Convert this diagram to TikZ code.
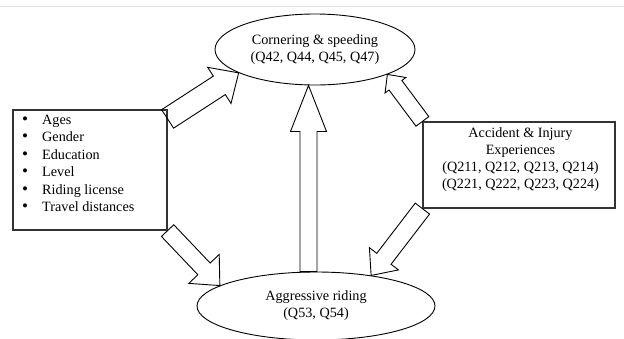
\documentclass[tikz,border=0pt]{standalone}
\usepackage{fontspec}
\setmainfont{Liberation Serif}
\usetikzlibrary{calc,shapes.geometric}
\newcommand{\diafont}{\fontsize{14.2pt}{17pt}\selectfont}
% tail, tip, shaft half width, head half width, head length
\newcommand{\blockarrow}[5]{%
  \coordinate (bah) at ($(#2)!#5!(#1)$);
  \draw[blockarr] ($(#1)!#3!90:(#2)$) -- ($(bah)!#3!90:(#2)$) -- ($(bah)!#4!90:(#2)$)
    -- (#2) -- ($(bah)!#4!-90:(#2)$) -- ($(bah)!#3!-90:(#2)$) -- ($(#1)!#3!-90:(#2)$) -- cycle;}
\tikzset{
  ell/.style={draw=black, line width=0.9pt, ellipse, inner sep=0pt, align=center, font=\diafont},
  box/.style={draw=black!80, line width=1.2pt, rectangle, inner sep=0pt},
  txt/.style={inner sep=0pt, font=\diafont},
  bul/.style={inner sep=0pt, font=\fontsize{17pt}{17pt}\selectfont},
  blockarr/.style={draw=black, line width=0.9pt, line join=miter},
}
\begin{document}
\begin{tikzpicture}[x=1pt, y=-1pt]
\useasboundingbox (0,0) rectangle (624,338);
\clip (0,0) rectangle (624,338);
\draw[black!12, line width=1pt] (0,6) -- (624,6);

\node[ell, minimum width=200pt, minimum height=71pt] (top) at (315,49.5)
  {Cornering \& speeding\\(Q42, Q44, Q45, Q47)};
\node[ell, minimum width=238pt, minimum height=68pt] (bot) at (316,306)
  {Aggressive riding\\(Q53, Q54)};
\node[box, minimum width=154pt, minimum height=120pt] (L) at (90,170) {};
\node[box, minimum width=192pt, minimum height=86pt] (R) at (519,165) {};

\foreach \t [count=\i] in {Ages,Gender,Education,Level,Riding license,Travel distances}{
  \node[bul, anchor=base] (bu\i) at (25,{106.5+17.5*\i}) {•};
  \node[txt, anchor=base west] (li\i) at (42,{106.5+17.5*\i}) {\t};
}
\node[txt, anchor=base] (r1) at (520.5,137) {Accident \& Injury};
\node[txt, anchor=base] (r2) at (520.5,154) {Experiences};
\node[txt, anchor=base] (r3) at (520.5,171) {(Q211, Q212, Q213, Q214)};
\node[txt, anchor=base] (r4) at (520.5,188) {(Q221, Q222, Q223, Q224)};

\coordinate (a1s) at ([yshift=-9.5pt]L.north east);
\coordinate (a1e) at (top.197);
\coordinate (a2s) at (R.north west);
\coordinate (a2e) at (top.341);
\coordinate (a3s) at (L.south east);
\coordinate (a3e) at (bot.168);
\coordinate (a4s) at (R.south west);
\coordinate (a4e) at (bot.29);
\coordinate (a5s) at ([xshift=-7.5pt]bot.north);
\coordinate (a5e) at ([xshift=-6.5pt]top.south);

\blockarrow{a1s}{a1e}{11pt}{21.5pt}{23pt}
\blockarrow{a2s}{a2e}{8pt}{13pt}{13.5pt}
\blockarrow{a3s}{a3e}{8.5pt}{21pt}{23pt}
\blockarrow{a4s}{a4e}{9pt}{18.3pt}{21pt}
\blockarrow{a5s}{a5e}{8.5pt}{18pt}{46pt}
\end{tikzpicture}
\end{document}
